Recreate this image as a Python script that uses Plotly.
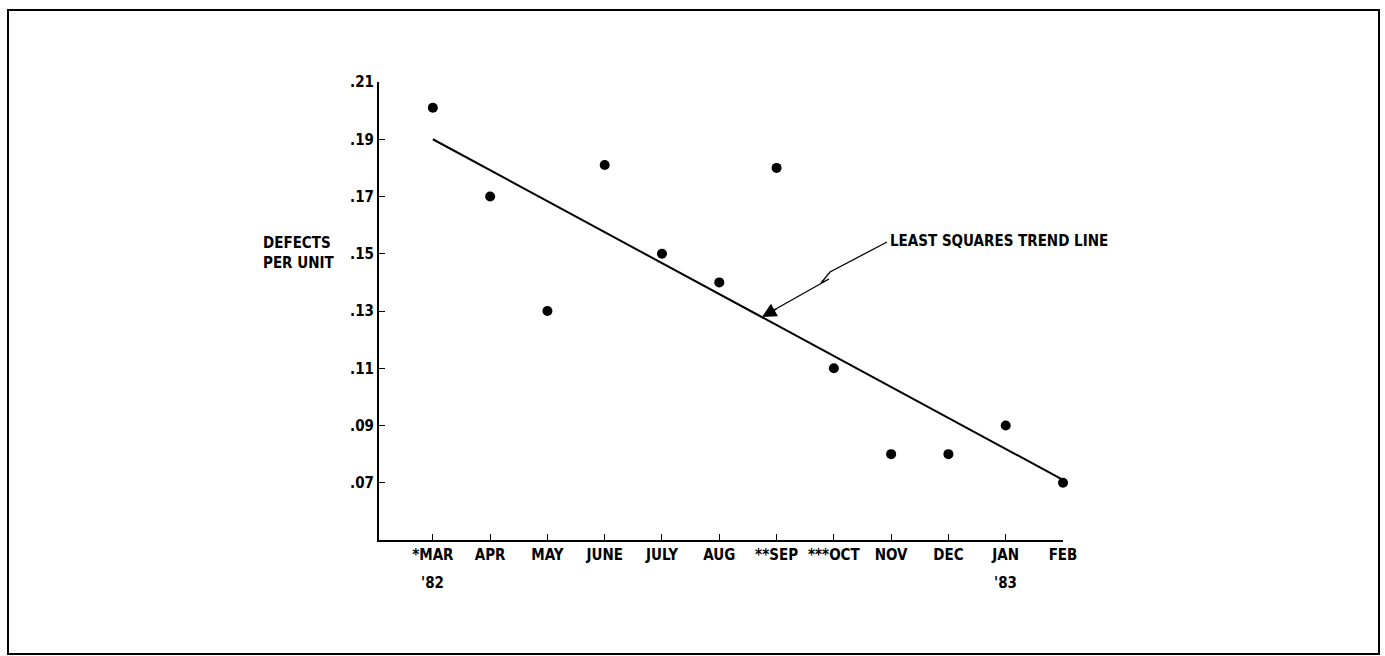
import plotly.graph_objects as go

# data
months = ["*MAR", "APR", "MAY", "JUNE", "JULY", "AUG", "**SEP", "***OCT", "NOV", "DEC", "JAN", "FEB"]
defects = [0.201, 0.170, 0.130, 0.181, 0.150, 0.140, 0.180, 0.110, 0.080, 0.080, 0.090, 0.070]
trend_months = [0, 11]
trend_values = [0.190, 0.071]
ytick_vals = [0.07, 0.09, 0.11, 0.13, 0.15, 0.17, 0.19, 0.21]
ytick_text = [".07", ".09", ".11", ".13", ".15", ".17", ".19", ".21"]
year_labels = {0: "'82", 10: "'83"}

FONT = "DejaVu Sans Condensed, Liberation Sans Narrow, Arial Narrow, sans-serif"
FS = 15
W, H = 1385, 656
ML, MR, MT, MB = 379, 322, 82, 116
XR = [-0.94, 11.0]
YR = [0.05, 0.21]
pw, ph = W - ML - MR, H - MT - MB


def px_x(px):
    return XR[0] + (px - ML) / pw * (XR[1] - XR[0])


def px_y(py):
    return YR[1] - (py - MT) / ph * (YR[1] - YR[0])


def paper_x(px):
    return (px - ML) / pw


def paper_y(py):
    return (H - MB - py) / ph


x = list(range(len(months)))
tf = dict(family=FONT, size=FS, color="black")

fig = go.Figure()
fig.add_trace(go.Scatter(x=trend_months, y=trend_values, mode="lines",
                         line=dict(color="black", width=2), cliponaxis=False, hoverinfo="skip"))
fig.add_trace(go.Scatter(x=x, y=defects, mode="markers",
                         marker=dict(color="black", size=10), cliponaxis=False))

# leader line with zigzag
pts = [(887, 242), (830, 272), (821, 283), (829, 279), (774, 310)]
path = "M " + " L ".join("{},{}".format(px_x(a), px_y(b)) for a, b in pts)
fig.add_shape(type="path", path=path, xref="x", yref="y", line=dict(color="black", width=1.3))
fig.add_annotation(x=px_x(762), y=px_y(317), ax=16, ay=-9, text="", showarrow=True,
                   arrowhead=2, arrowsize=2.2, arrowwidth=1.3, arrowcolor="black")
fig.add_annotation(x=px_x(888), y=px_y(241), text="<b>LEAST SQUARES TREND LINE</b>", showarrow=False,
                   xanchor="left", yanchor="middle", font=tf)

fig.add_annotation(xref="paper", yref="paper", x=paper_x(336), y=paper_y(253),
                   text="<b>DEFECTS<br>PER UNIT</b>", showarrow=False, align="left",
                   xanchor="right", yanchor="middle", font=tf)

for i, lab in year_labels.items():
    fig.add_annotation(x=i, xref="x", yref="paper", y=paper_y(583), text="<b>" + lab + "</b>",
                       showarrow=False, yanchor="middle", font=tf)

# outer frame
fig.add_shape(type="rect", xref="paper", yref="paper",
              x0=paper_x(8), x1=paper_x(1379), y0=paper_y(654), y1=paper_y(10),
              line=dict(color="black", width=2))

fig.update_xaxes(range=XR, tickvals=x, ticktext=["<b>" + m + "</b>" for m in months],
                 showline=True, linecolor="black", linewidth=2, ticks="inside", ticklen=6,
                 tickcolor="black", showgrid=False, zeroline=False, tickangle=0,
                 tickfont=tf)
fig.update_yaxes(range=YR, tickvals=ytick_vals, ticktext=["<b>" + t + "</b>" for t in ytick_text],
                 showline=True, linecolor="black", linewidth=2, ticks="inside", ticklen=6,
                 tickcolor="black", showgrid=False, zeroline=False,
                 tickfont=tf)

fig.update_layout(width=W, height=H, margin=dict(l=ML, r=MR, t=MT, b=MB),
                  plot_bgcolor="white", paper_bgcolor="white", showlegend=False)

fig.write_html("out.html", config={"displayModeBar": False},
               post_script="document.body.style.margin='0';document.body.style.overflow='hidden';")
